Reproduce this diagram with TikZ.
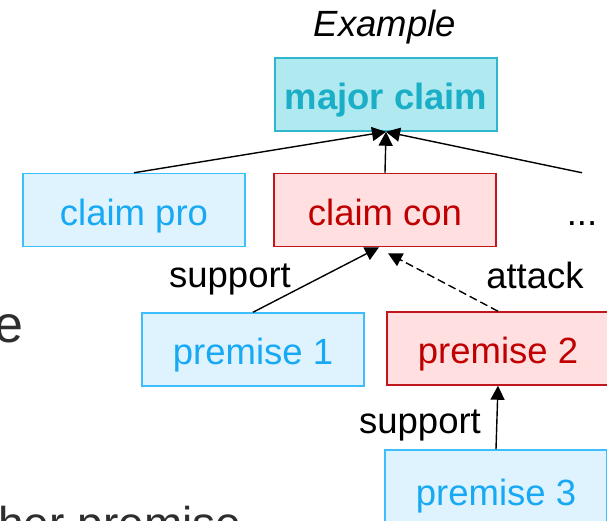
\documentclass[tikz,border=0pt]{standalone}
\usepackage{fontspec}
\setmainfont{Liberation Sans}
\usetikzlibrary{arrows.meta}
\definecolor{majfill}{HTML}{B0E9F0}
\definecolor{majline}{HTML}{2DB6CC}
\definecolor{majtext}{HTML}{1AAFC6}
\definecolor{profill}{HTML}{DFF3FF}
\definecolor{proline}{HTML}{3DBFFF}
\definecolor{protext}{HTML}{17A9F3}
\definecolor{confill}{HTML}{FFDFE0}
\definecolor{conline}{HTML}{C0161C}
\definecolor{context}{HTML}{C00000}
\definecolor{slidegray}{HTML}{2E2E2E}

\begin{document}
\begin{tikzpicture}[x=0.5pt,y=-0.5pt]
        \tikzstyle{every node}+=[inner sep=0pt, font=\fontsize{18.25}{22}\selectfont]
        \tikzstyle{argbox}=[draw, line width=0.75pt, minimum width=111pt, minimum height=36.5pt, text height=15.5pt, text depth=0.5pt]
        \tikzstyle{majbox}=[argbox, fill=majfill, draw=majline, text=majtext]
        \tikzstyle{probox}=[argbox, fill=profill, draw=proline, text=protext]
        \tikzstyle{conbox}=[argbox, fill=confill, draw=conline, text=context]
        \tikzstyle{link}=[-{Triangle[length=7pt,width=7pt]}, line width=0.7pt, black]
        \useasboundingbox (0,0) rectangle (607,521);
        % slide text behind the example
        \node [anchor=base east, text=slidegray, font=\fontsize{26}{30}\selectfont] (slidee) at (24,342) {e};
        \node [anchor=base west, text=slidegray, font=\fontsize{23}{28}\selectfont] (slidebot) at (-2,539) {her premise};
        % the example tree
        \node [anchor=base] (title) at (385,36) {\itshape Example};
        \node [majbox] (major) at (386,94.5) {\bfseries major claim};
        \node [probox] (pro) at (134,210) {claim pro};
        \node [conbox] (con) at (385,210) {claim con};
        \node [argbox, draw=none] (more) at (582,210) {...};
        \node [probox] (prem1) at (253,349.5) {premise 1};
        \node [conbox] (prem2) at (498,348.5) {premise 2};
        \node [probox, minimum height=40pt] (prem3) at (496,490) {premise 3};
        \node [anchor=base] (supa) at (230,287) {support};
        \node [anchor=base] (att) at (535,288) {attack};
        \node [anchor=base] (supb) at (420,433) {support};
        \draw [link] (pro.north) -- (major.south);
        \draw [link] (con.north) -- (major.south);
        \draw [link] (more.north) -- (major.south);
        \draw [link] (prem1.north) -- ([xshift=-3pt]con.south);
        \draw [link, dash pattern=on 4pt off 2pt] (prem2.north) -- ([xshift=1.5pt,yshift=-3pt]con.south);
        \draw [link] (prem3.north) -- (prem2.south);
\end{tikzpicture}
\end{document}
